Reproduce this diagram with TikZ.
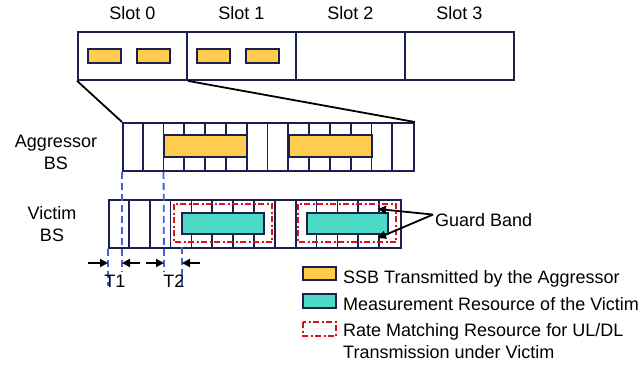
\documentclass[tikz,border=0pt]{standalone}
\usepackage{fontspec}
\setmainfont{Liberation Sans}
\usepackage{xcolor}
\usepackage{tikz}
\usetikzlibrary{positioning, arrows.meta}
\definecolor{frame}{RGB}{28,32,80}
\definecolor{ssb}{RGB}{255,204,77}
\definecolor{meas}{RGB}{78,217,196}
\definecolor{rate}{RGB}{214,20,20}
\definecolor{tline}{RGB}{72,96,214}

\begin{document}
\begin{tikzpicture}[
        x=1pt, y=-1pt,
        font=\fontsize{18}{22}\selectfont,
        slot/.style={rectangle, draw=frame, line width=1.8pt, minimum width=109pt, minimum height=48pt, inner sep=0pt},
        bar/.style={rectangle, draw=frame, line width=1.8pt, minimum height=48pt, inner sep=0pt, anchor=north west},
        col/.style={draw=frame, line width=1.8pt},
        ssbbox/.style={draw=frame, line width=1.8pt, fill=ssb},
        measbox/.style={draw=frame, line width=1.8pt, fill=meas},
        ratebox/.style={draw=rate, line width=1.8pt, dash pattern=on 6pt off 2.5pt on 2pt off 2.5pt},
        tdash/.style={draw=tline, line width=1.8pt, dash pattern=on 7pt off 4pt},
        gap/.style={-{Triangle[length=8pt,width=8pt]}, line width=1.8pt},
        txt/.style={inner sep=2pt, align=center},
    ]
        \useasboundingbox (0,0) rectangle (641,365);

        \foreach \i in {0,...,3} {
            \node[slot] (s\i) at (132.5+109*\i, 56) {};
            \node[txt, above=9pt of s\i] (lab\i) {Slot \i};
        }
        \foreach \i in {0,1}
            \foreach \dx in {11,60}
                \draw[ssbbox] ([xshift=\dx pt, yshift=-18pt]s\i.north west) rectangle ++(33,14);

        \node[bar, minimum width=291pt] (agg) at (122,122) {};
        \foreach \k in {1,...,13}
            \draw[col] ([xshift=\k*20.786pt]agg.north west) -- ([xshift=\k*20.786pt]agg.south west);
        \draw[ssbbox] (164,135) rectangle (247,157);
        \draw[ssbbox] (289,135) rectangle (372,157);

        \node[bar, minimum width=292pt] (vic) at (108,199) {};
        \foreach \k in {1,...,13}
            \draw[col] ([xshift=\k*20.857pt]vic.north west) -- ([xshift=\k*20.857pt]vic.south west);
        \draw[measbox] (182,213) rectangle (264,234);
        \draw[measbox] (307,213) rectangle (388,234);
        \draw[ratebox] (174,204) rectangle (272,242);
        \draw[ratebox] (298,204) rectangle (396,242);

        \draw[line width=1.8pt] (s0.south west) -- (agg.north west);
        \draw[line width=1.8pt] (s0.south east) -- (agg.north east);

        \node[txt, anchor=base] (agglab) at (56,169) {Aggressor\\BS};
        \node[txt, anchor=base] (viclab) at (52,241) {Victim\\BS};

        \coordinate (a1) at (108,263);
        \coordinate (a2) at (122,263);
        \coordinate (a3) at (164,263);
        \coordinate (a4) at (182,263);
        \draw[tdash] (agg.south west) -- (122,272);
        \draw[tdash] ([xshift=2*20.786pt]agg.south west) -- (164,272);
        \draw[tdash] (vic.south west) -- (108,286);
        \draw[tdash] (182,247) -- (182,286);
        \draw[gap] ([xshift=-20pt]a1) -- (a1);
        \draw[gap] ([xshift=18pt]a2) -- (a2);
        \draw[gap] ([xshift=-18pt]a3) -- (a3);
        \draw[gap] ([xshift=18pt]a4) -- (a4);
        \node[txt, anchor=base] (t1) at (115,287) {T1};
        \node[txt, anchor=base] (t2) at (174,287) {T2};

        \node[txt, anchor=base west] (gb) at (433,226) {Guard Band};
        \coordinate (g1) at (378,209);
        \coordinate (g2) at (378,238);
        \draw[gap] ([yshift=5pt]gb.west) -- (g1);
        \draw[gap] ([yshift=5pt]gb.west) -- (g2);

        \draw[ssbbox] (303,267) rectangle (336,280);
        \node[txt, anchor=base west] (lg1) at (341,283) {SSB Transmitted by the Aggressor};
        \draw[measbox] (303,294) rectangle (336,308);
        \node[txt, anchor=base west] (lg2) at (341,310) {Measurement Resource of the Victim};
        \draw[ratebox] (303,322) rectangle (336,336);
        \node[txt, anchor=base west, align=left] (lg3) at (341,358) {Rate Matching Resource for UL/DL\\Transmission under Victim};
    \end{tikzpicture}
\end{document}
